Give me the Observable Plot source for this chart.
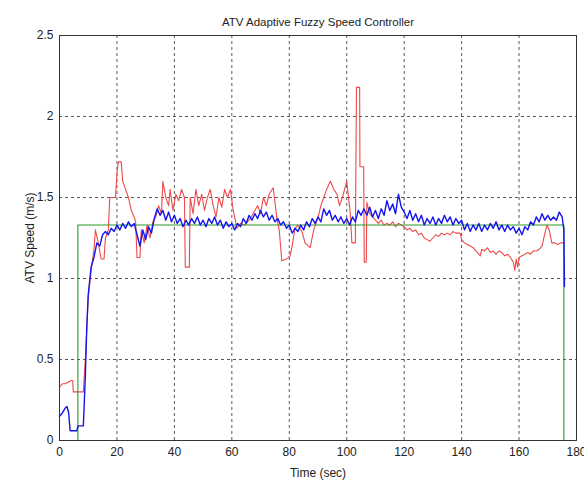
<!DOCTYPE html>
<html><head><meta charset="utf-8">
<script src="https://cdn.jsdelivr.net/npm/d3@7"></script>
<script src="https://cdn.jsdelivr.net/npm/@observablehq/plot@0.6"></script>
<style>body{margin:0;background:#fff}</style>
</head><body><div id="chart"></div>
<script>
const title = "ATV Adaptive Fuzzy Speed Controller";
const xLabel = "Time (sec)";
const yLabel = "ATV Speed (m/s)";
const xTicks = [0, 20, 40, 60, 80, 100, 120, 140, 160, 180];
const yTicks = [0, 0.5, 1, 1.5, 2, 2.5];

// reference (commanded) speed - green
const refTime  = [0, 6.4, 6.4, 175.6, 175.6];
const refSpeed = [0, 0, 1.33, 1.33, 0];

// red series
const redTime = [0,1,2,3,4,4.6,4.8,8.3,9,10,11,12,12.5,13.5,14.5,15.5,16,17,17.5,19.5,20,20.5,21.5,22,23,24,25,26,26.5,27,28,28.5,29.5,30.5,31.5,32.5,33.5,34.5,35.5,36,37,38,38.5,39.5,40.5,41.5,42.5,43.5,43.8,45.2,45.5,46.5,47.5,48.5,49.5,50.5,51.5,52.5,53.5,54.5,55.5,56.5,57.5,58.5,59.5,60.5,61.8,63,64.5,66.4,68,69,70,71,72,73,74.4,75.7,76.5,77.4,79,80.3,81,82,83,84.4,85.5,87.3,88.5,89.5,90.2,91,92,93,94.3,95.5,96.6,97.5,98.5,100,101.2,101.8,103,103.4,104.5,104.6,105.9,106.1,106.8,107,108,109,110,111,112,113,114,115,116,117,118,119,120,121,122,123,124,125,126,127,128,129,130,131,132,133,134,135,136,137,138,139.5,140,141,142,143,144,145,146.5,147,148,149,150,151,152,153,154,155,156,157,158,158.5,159,159.5,160,161,162,163,164,165,166,167,168,169,169.7,170.5,171.4,172.5,173.5,174.5,175.5];
const redSpeed = [0.33,0.35,0.35,0.36,0.37,0.37,0.3,0.3,0.5,0.88,1.05,1.18,1.3,1.22,1.12,1.12,1.25,1.3,1.5,1.5,1.65,1.72,1.72,1.6,1.55,1.5,1.42,1.38,1.35,1.13,1.13,1.3,1.22,1.33,1.25,1.35,1.38,1.45,1.4,1.6,1.5,1.45,1.55,1.42,1.52,1.48,1.55,1.5,1.07,1.07,1.5,1.4,1.55,1.45,1.52,1.42,1.5,1.55,1.45,1.38,1.5,1.44,1.55,1.5,1.55,1.42,1.31,1.34,1.33,1.37,1.42,1.45,1.4,1.5,1.45,1.52,1.56,1.37,1.3,1.11,1.12,1.14,1.2,1.31,1.33,1.29,1.22,1.19,1.3,1.35,1.39,1.45,1.5,1.55,1.6,1.55,1.52,1.45,1.5,1.6,1.41,1.22,1.22,2.18,2.18,1.69,1.69,1.1,1.1,1.47,1.4,1.38,1.36,1.34,1.36,1.33,1.34,1.33,1.35,1.32,1.34,1.33,1.32,1.3,1.31,1.29,1.3,1.27,1.28,1.25,1.24,1.23,1.25,1.27,1.26,1.28,1.27,1.28,1.27,1.29,1.28,1.28,1.24,1.22,1.21,1.2,1.19,1.17,1.14,1.18,1.17,1.19,1.16,1.17,1.15,1.17,1.16,1.14,1.15,1.13,1.1,1.05,1.12,1.07,1.13,1.14,1.15,1.16,1.15,1.17,1.17,1.18,1.2,1.28,1.33,1.3,1.22,1.22,1.21,1.22,1.22];

// blue series
const blueTime = [0,1,2,2.6,3.2,3.7,6,6.5,8.3,9,9.5,10,11,12,13,14,15,16,17,18,19,20,21,22,23,24,25,26,27,28,29,30,31,32,33,34,35,36,37,38,39,40,41,42,43,44,45,46,47,48,49,50,51,52,53,54,55,56,57,58,59,60,61,62,63,64,65,66,67,68,69,70,71,72,73,74,75,76,77,78,79,80,81,82,83,84,85,86,87,88,89,90,91,92,93,94,95,96,97,98,99,100,101,102,103,104,105,106,107,108,109,110,111,112,113,114,115,116,117,118,119,120,121,122,123,124,125,126,127,128,129,130,131,132,133,134,135,136,137,138,139,140,141,142,143,144,145,146,147,148,149,150,151,152,153,154,155,156,157,158,159,160,161,162,163,164,165,166,167,168,169,170,171,172,173,174,175,175.6,175.8];
const blueSpeed = [0.15,0.17,0.2,0.21,0.17,0.06,0.06,0.09,0.09,0.4,0.7,0.9,1.07,1.13,1.22,1.2,1.27,1.29,1.27,1.31,1.29,1.33,1.3,1.34,1.31,1.35,1.32,1.34,1.27,1.2,1.3,1.24,1.32,1.28,1.37,1.43,1.39,1.42,1.36,1.41,1.35,1.39,1.34,1.37,1.32,1.36,1.33,1.37,1.34,1.38,1.33,1.36,1.32,1.37,1.34,1.38,1.33,1.36,1.31,1.35,1.32,1.34,1.3,1.34,1.32,1.37,1.34,1.39,1.36,1.4,1.37,1.42,1.38,1.41,1.36,1.39,1.35,1.37,1.33,1.35,1.31,1.33,1.28,1.31,1.29,1.33,1.3,1.35,1.32,1.37,1.34,1.38,1.35,1.43,1.39,1.42,1.36,1.39,1.35,1.38,1.34,1.37,1.33,1.38,1.35,1.42,1.39,1.43,1.39,1.44,1.38,1.42,1.37,1.43,1.39,1.48,1.42,1.46,1.4,1.52,1.44,1.41,1.37,1.42,1.36,1.4,1.35,1.39,1.33,1.37,1.34,1.38,1.33,1.37,1.34,1.39,1.35,1.38,1.33,1.37,1.34,1.36,1.3,1.34,1.29,1.33,1.3,1.34,1.29,1.33,1.3,1.34,1.31,1.35,1.3,1.33,1.29,1.33,1.3,1.32,1.28,1.31,1.27,1.32,1.3,1.35,1.33,1.38,1.35,1.4,1.36,1.39,1.36,1.38,1.36,1.41,1.38,1.3,0.95];

const rows = (t, v) => t.map((d, i) => ({t: d, v: v[i]}));

const chart = Plot.plot({
  width: 584, height: 486,
  marginLeft: 59, marginRight: 8, marginTop: 35, marginBottom: 46,
  style: {fontFamily: "'Liberation Sans', Arial, sans-serif", fontSize: "12px", color: "#222", background: "#fff"},
  x: {domain: [0, 180], ticks: xTicks, label: xLabel, labelAnchor: "center", labelArrow: "none", labelOffset: 36, tickSize: 0, tickPadding: 7, tickFormat: d => String(d)},
  y: {domain: [0, 2.5], ticks: yTicks, label: yLabel, labelAnchor: "center", labelArrow: "none", labelOffset: 34, tickSize: 0, tickPadding: 6, tickFormat: d => String(d)},
  marks: [
    Plot.ruleX(xTicks, {stroke: "#222", strokeOpacity: 0.75, strokeDasharray: "3,3"}),
    Plot.ruleY(yTicks, {stroke: "#222", strokeOpacity: 0.75, strokeDasharray: "3,3"}),
    Plot.line(rows(redTime, redSpeed), {x: "t", y: "v", stroke: "#ee4a4a", strokeWidth: 1.1}),
    Plot.line(rows(refTime, refSpeed), {x: "t", y: "v", stroke: "#2a9a2a", strokeWidth: 1.1}),
    Plot.line(rows(blueTime, blueSpeed), {x: "t", y: "v", stroke: "#1414ee", strokeWidth: 1.4}),
    Plot.frame({stroke: "#333"}),
    Plot.text([title], {frameAnchor: "top", dy: -18, fontSize: 11.5, fill: "#222"})
  ]
});
document.getElementById("chart").append(chart);
</script>
</body></html>
